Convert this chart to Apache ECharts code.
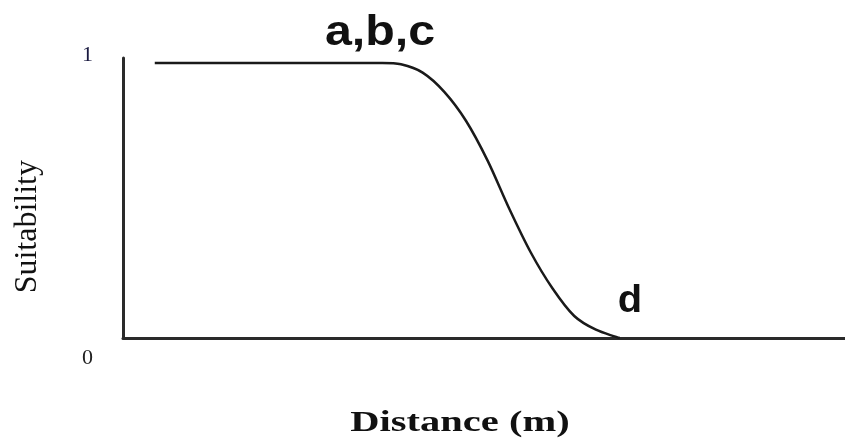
<!DOCTYPE html>
<html>
<head>
<meta charset="utf-8">
<script src="https://cdn.jsdelivr.net/npm/echarts@6/dist/echarts.min.js"></script>
<style>
  html, body { margin: 0; padding: 0; background: #fff; }
  #chart { width: 845px; height: 443px; }
</style>
</head>
<body>
<div id="chart"></div>
<script>
// distance (arbitrary units 0-100) and suitability
var distance = [4.4, 35.9, 38.5, 41.5, 44.5, 47.5, 50.5, 53.5, 56.5, 59.5, 62.5, 65.5, 68.8];
var suitability = [1, 1, 0.995, 0.965, 0.895, 0.79, 0.645, 0.47, 0.31, 0.18, 0.08, 0.03, 0];
var yTicks = [0, 1];
// point labels on the curve
var noteText = ['a,b,c', 'd'];
var noteX = [35.6, 70.2];
var noteY = [1, 0];

var curve = distance.map(function (d, i) { return [d, suitability[i]]; });

var chart = echarts.init(document.getElementById('chart'));
chart.setOption({
  backgroundColor: '#fff',
  animation: false,
  grid: { left: 123, right: 0, top: 58, bottom: 105 },
  xAxis: {
    type: 'value',
    min: 0,
    max: 100,
    axisLine: { show: true, lineStyle: { color: '#2a2a2a', width: 3 } },
    axisTick: { show: false },
    axisLabel: { show: false },
    splitLine: { show: false }
  },
  yAxis: {
    type: 'value',
    min: 0,
    max: 1.018,
    axisLine: { show: true, lineStyle: { color: '#2a2a2a', width: 3 } },
    axisTick: { show: false },
    splitLine: { show: false },
    axisLabel: {
      customValues: yTicks,
      margin: 30,
      formatter: function (v) { return v === 0 ? '{lo|0}' : '{hi|1}'; },
      rich: {
        lo: { fontFamily: 'Liberation Serif', fontSize: 22, color: '#222', padding: [40, 0, 0, 0] },
        hi: { fontFamily: 'Liberation Serif', fontSize: 22, color: '#1a1a40', padding: [0, 0, 16, 0] }
      }
    }
  },
  series: [
    {
      type: 'line',
      data: curve,
      smooth: 0.3,
      showSymbol: false,
      lineStyle: { color: '#1a1a1a', width: 2.5 }
    }
  ]
});

// axis names and curve notes (notes placed through the chart's own scales)
var noteFont = ['bold 42px "Liberation Sans"', 'bold 38px "Liberation Sans"'];
var noteLift = [-9, -17];
var noteScale = [1.15, 1.05];
var graphics = [
  {
    type: 'text',
    left: 12,
    top: 160,
    rotation: Math.PI / 2,
    style: { text: 'Suitability', font: '32px "Liberation Serif"', fill: '#111' }
  },
  {
    type: 'text',
    x: 460,
    y: 438,
    scaleX: 1.35,
    style: { text: 'Distance (m)', font: 'bold 30px "Liberation Serif"', fill: '#111', align: 'center', verticalAlign: 'bottom' }
  }
];
noteText.forEach(function (t, i) {
  var p = chart.convertToPixel({ gridIndex: 0 }, [noteX[i], noteY[i]]);
  graphics.push({
    type: 'text',
    x: p[0],
    y: p[1],
    scaleX: noteScale[i],
    style: { text: t, x: 0, y: noteLift[i], font: noteFont[i], fill: '#111', align: 'center', verticalAlign: 'bottom' }
  });
});
chart.setOption({ graphic: graphics });
</script>
</body>
</html>
